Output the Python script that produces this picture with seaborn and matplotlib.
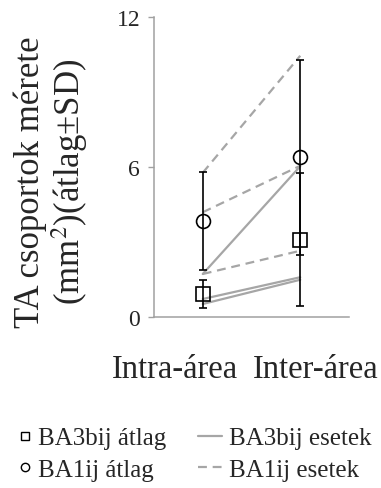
import numpy as np
import pandas as pd
import matplotlib
matplotlib.use("Agg")
import matplotlib.pyplot as plt
import matplotlib.transforms as mtransforms
from matplotlib.lines import Line2D
import seaborn as sns

# Conditions on the x axis
conditions = ["Intra-área", "Inter-área"]

# Individual cases (one list per case: intra, inter), mm^2
ba3_cases = [[1.72, 6.03], [0.72, 1.59], [0.52, 1.49]]
ba1_cases = [[5.77, 10.45], [4.19, 6.05], [1.72, 2.65]]

# Group means and standard deviations
ba3_mean = [0.92, 3.10]
ba3_sd = [0.55, 2.66]
ba1_mean = [3.85, 6.40]
ba1_sd = [1.95, 3.90]

y_ticks = [0, 6, 12]

sns.set_theme(style="white")
plt.rcParams["font.family"] = ["Liberation Serif", "DejaVu Serif"]
plt.rcParams["mathtext.fontset"] = "stix"

rows = []
for group, cases in (("BA3bij", ba3_cases), ("BA1ij", ba1_cases)):
    for i, case in enumerate(cases):
        for j, val in enumerate(case):
            rows.append({"group": group, "case": f"{group}-{i}", "pos": j, "value": val})
df = pd.DataFrame(rows)

fig = plt.figure(figsize=(3.81, 4.89), dpi=100)
ax = fig.add_axes([154 / 381, 1 - 318 / 489, 195 / 381, 300 / 489])

line_gray = "#a6a6a6"
sns.lineplot(
    data=df, x="pos", y="value", hue="group", style="group", units="case",
    estimator=None, palette={"BA3bij": line_gray, "BA1ij": line_gray},
    dashes={"BA3bij": "", "BA1ij": (4, 2.6)}, linewidth=1.6,
    legend=False, ax=ax, zorder=2,
)

x_pos = np.arange(len(conditions))
ax.errorbar(x_pos, ba3_mean, yerr=ba3_sd, fmt="s", ms=10, mfc="none", mec="black",
            mew=1.2, ecolor="black", elinewidth=1.2, capsize=3, capthick=1.2, zorder=3)
ax.errorbar(x_pos, ba1_mean, yerr=ba1_sd, fmt="o", ms=10, mfc="none", mec="black",
            mew=1.2, ecolor="black", elinewidth=1.2, capsize=3, capthick=1.2, zorder=3)

ax.set_xlim(-0.5, 1.5)
ax.set_ylim(0, 12)
ax.set_yticks(y_ticks)
ax.set_yticklabels([str(t) for t in y_ticks], fontsize=17)
ax.set_xticks(x_pos)
ax.set_xticklabels(conditions, fontsize=23.5)
ax.tick_params(axis="x", length=0, pad=26)
ax.tick_params(axis="y", length=4, width=1, color="#a0a0a0", pad=6, left=True)

# shift the category labels sideways
for lbl, dx in zip(ax.get_xticklabels(), [-28, 15]):
    lbl.set_transform(lbl.get_transform() + mtransforms.ScaledTranslation(dx / 100, 0, fig.dpi_scale_trans))

for side in ("top", "right"):
    ax.spines[side].set_visible(False)
for side in ("left", "bottom"):
    ax.spines[side].set_color("#a0a0a0")
    ax.spines[side].set_linewidth(1.1)

ax.set_xlabel("")
ax.set_ylabel("TA csoportok mérete\n(mm$^2$)(átlag±SD)", fontsize=25, linespacing=1.08)
ax.yaxis.set_label_coords(-0.328, 0.453)

# legend: markers in the first column, lines in the second
mk_handles = [
    Line2D([], [], ls="none", marker="s", ms=6, mfc="none", mec="black", mew=1),
    Line2D([], [], ls="none", marker="o", ms=6, mfc="none", mec="black", mew=1),
]
ln_handles = [
    Line2D([], [], color=line_gray, lw=1.6),
    Line2D([], [], color=line_gray, lw=1.6, dashes=(4, 2.6)),
]
leg1 = fig.legend(mk_handles, ["BA3bij átlag", "BA1ij átlag"], loc="upper left",
                  bbox_to_anchor=(17 / 381, 1 - 428 / 489), frameon=False, fontsize=18,
                  handlelength=0.6, handletextpad=0.22, borderpad=0, borderaxespad=0,
                  labelspacing=0.36)
leg2 = fig.legend(ln_handles, ["BA3bij esetek", "BA1ij esetek"], loc="upper left",
                  bbox_to_anchor=(198 / 381, 1 - 428 / 489), frameon=False, fontsize=18,
                  handlelength=0.95, handletextpad=0.3, borderpad=0, borderaxespad=0,
                  labelspacing=0.36)

fig.savefig("out.png", dpi=100)
